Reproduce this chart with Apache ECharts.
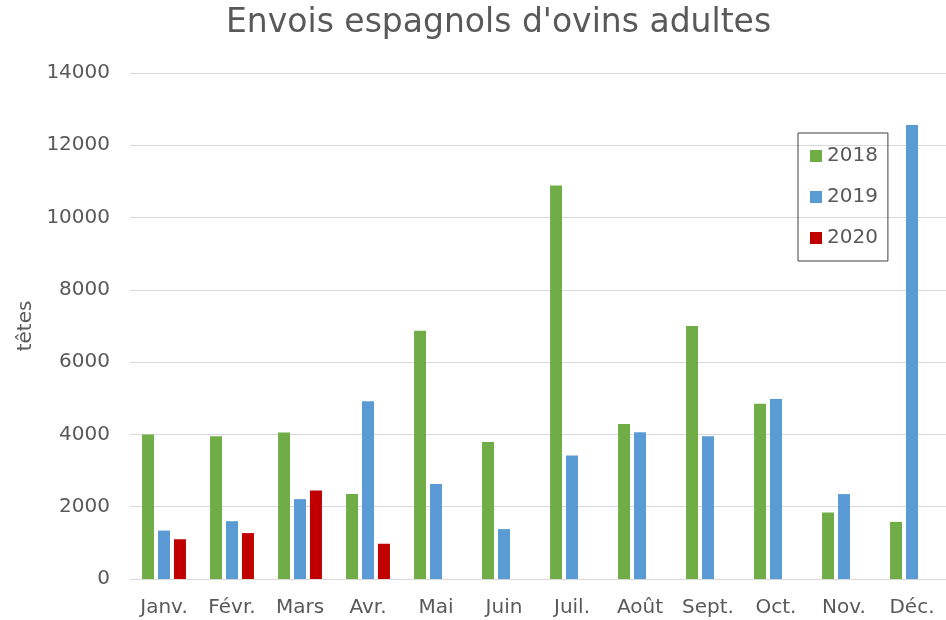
<!DOCTYPE html>
<html lang="fr">
<head>
	<meta charset="UTF-8">
	<title>Envois espagnols d'ovins adultes</title>
	<script src="https://cdn.jsdelivr.net/npm/echarts@6/dist/echarts.min.js"></script>
	<style>
		html, body { margin:0; padding:0; background:#fff; }
		#chart { width:946px; height:620px; }
	</style>
</head>
<body>
	<div id="chart"></div>

	<script>
	/* données */
	var mois = ['Janv.', 'Févr.', 'Mars', 'Avr.', 'Mai', 'Juin', 'Juil.', 'Août', 'Sept.', 'Oct.', 'Nov.', 'Déc.'];
	var annees = ['2018', '2019', '2020'];
	var val2018 = [4000, 3950, 4050, 2350, 6870, 3790, 10890, 4290, 7000, 4850, 1840, 1580];
	var val2019 = [1340, 1600, 2210, 4920, 2630, 1380, 3420, 4060, 3950, 4980, 2350, 12560];
	var val2020 = [1100, 1270, 2450, 975, '-', '-', '-', '-', '-', '-', '-', '-'];
	var couleurs = ['#70AD47', '#5B9BD5', '#C00000'];

	var fontTxt = "'DejaVu Sans', sans-serif";
	var chart = echarts.init(document.getElementById('chart'));

	var option = {
		animation: false,
		title: {
			text: "Envois espagnols d'ovins adultes",
			left: 221,
			top: 2,
			textStyle: {
				color: '#595959',
				fontFamily: fontTxt,
				fontSize: 33,
				fontWeight: 'normal'
			}
		},
		legend: {
			orient: 'vertical',
			left: 798,
			top: 133,
			padding: [13, 10, 13, 12],
			itemGap: 21,
			itemWidth: 12,
			itemHeight: 12,
			icon: 'rect',
			borderColor: '#404040',
			borderWidth: 1,
			textStyle: {
				color: '#595959',
				fontFamily: fontTxt,
				fontSize: 20
			},
			data: annees
		},
		grid: {
			left: 130,
			right: 0,
			top: 73,
			bottom: 41
		},
		xAxis: {
			type: 'category',
			data: mois,
			axisTick: { show: false },
			axisLine: { lineStyle: { color: '#D9D9D9', width: 1 } },
			axisLabel: {
				color: '#595959',
				fontFamily: fontTxt,
				fontSize: 20,
				margin: 19
			}
		},
		yAxis: {
			type: 'value',
			min: 0,
			max: 14000,
			interval: 2000,
			name: 'têtes',
			nameLocation: 'middle',
			nameGap: 89,
			nameTextStyle: {
				color: '#595959',
				fontFamily: fontTxt,
				fontSize: 20
			},
			splitLine: { lineStyle: { color: '#D9D9D9', width: 1 } },
			axisLabel: {
				color: '#595959',
				fontFamily: fontTxt,
				fontSize: 20,
				margin: 20,
				formatter: function (v) { return String(v); }
			}
		},
		series: [
			{ name: annees[0], type: 'bar', barWidth: 12, barGap: '33%', itemStyle: { color: couleurs[0] }, data: val2018 },
			{ name: annees[1], type: 'bar', barWidth: 12, barGap: '33%', itemStyle: { color: couleurs[1] }, data: val2019 },
			{ name: annees[2], type: 'bar', barWidth: 12, barGap: '33%', itemStyle: { color: couleurs[2] }, data: val2020 }
		]
	};
	chart.setOption(option);
	</script>
</body>
</html>
